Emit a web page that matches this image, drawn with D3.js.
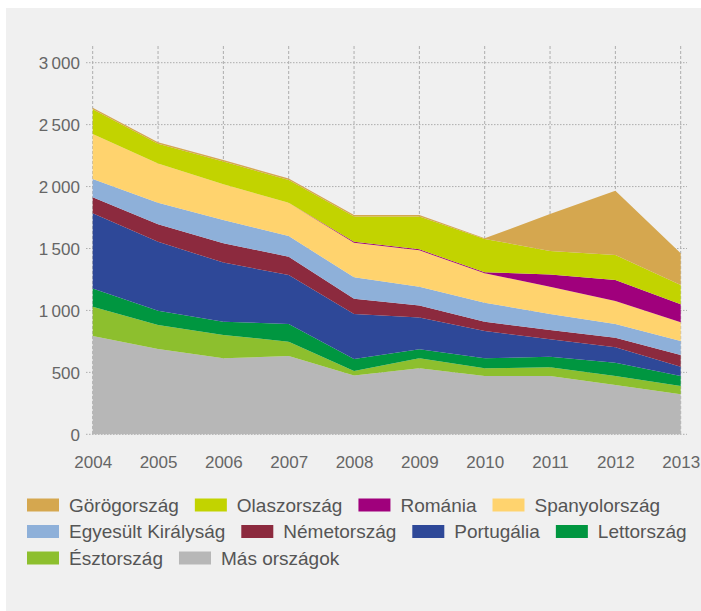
<!DOCTYPE html>
<html>
<head>
<meta charset="utf-8">
<script src="https://cdn.jsdelivr.net/npm/d3@7"></script>
<style>
  html, body { margin: 0; padding: 0; background: #ffffff; }
  svg { display: block; }
  text { font-family: "Liberation Sans", Arial, sans-serif; }
</style>
</head>
<body>
<svg id="chart" width="701" height="611"></svg>
<script>
// ---- data ----
const years = [2004, 2005, 2006, 2007, 2008, 2009, 2010, 2011, 2012, 2013];
const seriesNames = ["Más országok", "Észtország", "Lettország", "Portugália", "Németország",
  "Egyesült Királyság", "Spanyolország", "Románia", "Olaszország", "Görögország"];
const others   = [794, 689, 613, 632, 474, 533, 471, 471, 398, 323];
const estonia  = [236, 193, 189, 116, 37, 80, 62, 70, 73, 67];
const latvia   = [148, 116, 107, 143, 97, 73, 80, 86, 107, 81];
const portugal = [606, 557, 477, 395, 363, 256, 221, 140, 124, 75];
const germany  = [129, 140, 156, 148, 124, 97, 75, 75, 78, 94];
const uk       = [148, 175, 188, 167, 172, 153, 154, 129, 111, 113];
const spain    = [363, 317, 288, 269, 280, 293, 237, 221, 185, 151];
const romania  = [0, 0, 0, 0, 8, 8, 8, 99, 170, 145];
const italy    = [201, 158, 184, 184, 204, 266, 269, 189, 202, 156];
const greece   = [12, 12, 12, 12, 12, 12, 5, 299, 519, 256];
const yTicks = [0, 500, 1000, 1500, 2000, 2500, 3000];
const yTickLabels = ["0", "500", "1\u202F000", "1\u202F500", "2\u202F000", "2\u202F500", "3\u202F000"];
const colors = ["#b7b7b7", "#8dbf2e", "#009640", "#2e4898", "#8c2a3e",
  "#8eb0d9", "#ffd36e", "#a0007c", "#c2d300", "#d5a74f"];
const legendOrder = ["Görögország", "Olaszország", "Románia", "Spanyolország",
  "Egyesült Királyság", "Németország", "Portugália", "Lettország",
  "Észtország", "Más országok"];
const legendRows = [4, 4, 2];

const valuesBySeries = [others, estonia, latvia, portugal, germany, uk, spain, romania, italy, greece];

// ---- build table ----
const table = years.map((yr, i) => {
  const row = { year: yr };
  seriesNames.forEach((n, k) => row[n] = valuesBySeries[k][i]);
  return row;
});

const svg = d3.select("#chart");
svg.append("rect").attr("x", 6).attr("y", 8).attr("width", 695).attr("height", 603).attr("fill", "#f0f0f0");

const x = d3.scaleLinear().domain([2004, 2013]).range([92.7, 680.7]);
const y = d3.scaleLinear().domain([0, 3000]).range([434.3, 62.7]);

// grid
const grid = svg.append("g");
grid.selectAll("line.h").data(yTicks).join("line")
  .attr("x1", 86).attr("x2", 687)
  .attr("y1", d => y(d)).attr("y2", d => y(d))
  .attr("stroke", "#adadad").attr("stroke-width", 1).attr("stroke-dasharray", "1.5,1.5");
grid.selectAll("line.v").data(years).join("line")
  .attr("x1", d => x(d)).attr("x2", d => x(d))
  .attr("y1", 46).attr("y2", y(0))
  .attr("stroke", "#adadad").attr("stroke-width", 1).attr("stroke-dasharray", "3,2");

// stacked areas
const stack = d3.stack().keys(seriesNames);
const layers = stack(table);
const area = d3.area()
  .x(d => x(d.data.year))
  .y0(d => y(d[0]))
  .y1(d => y(d[1]));
svg.append("g").selectAll("path").data(layers).join("path")
  .attr("d", area)
  .attr("fill", (d, i) => colors[i]);

// y axis labels
const yAxis = d3.axisLeft(y).tickValues(yTicks)
  .tickFormat((d, i) => yTickLabels[i]).tickSize(0).tickPadding(0);
const ya = svg.append("g").attr("transform", "translate(80,0)").call(yAxis);
ya.select(".domain").remove();
ya.selectAll("text").attr("font-size", 17).attr("fill", "#666")
  .attr("font-family", "'Liberation Sans', Arial, sans-serif").attr("dy", "0.35em");

// x axis labels
const xAxis = d3.axisBottom(x).tickValues(years).tickFormat(d3.format("d")).tickSize(0).tickPadding(0);
const xa = svg.append("g").attr("transform", "translate(0,456)").call(xAxis);
xa.select(".domain").remove();
xa.selectAll("text").attr("font-size", 17).attr("fill", "#666")
  .attr("font-family", "'Liberation Sans', Arial, sans-serif").attr("dy", "0.71em");

// legend
const colorOf = n => colors[seriesNames.indexOf(n)];
const leg = svg.append("g");
let idx = 0;
const rowY = [505, 531.5, 558];
legendRows.forEach((count, r) => {
  let cx = 27;
  for (let k = 0; k < count; k++) {
    const name = legendOrder[idx++];
    leg.append("rect").attr("x", cx).attr("y", rowY[r] - 6.5).attr("width", 32).attr("height", 13)
      .attr("fill", colorOf(name));
    const t = leg.append("text").attr("x", cx + 42).attr("y", rowY[r]).attr("dy", "0.35em")
      .attr("font-size", 19).attr("fill", "#555").text(name);
    cx += 42 + t.node().getComputedTextLength() + 16;
  }
});
</script>
</body>
</html>
